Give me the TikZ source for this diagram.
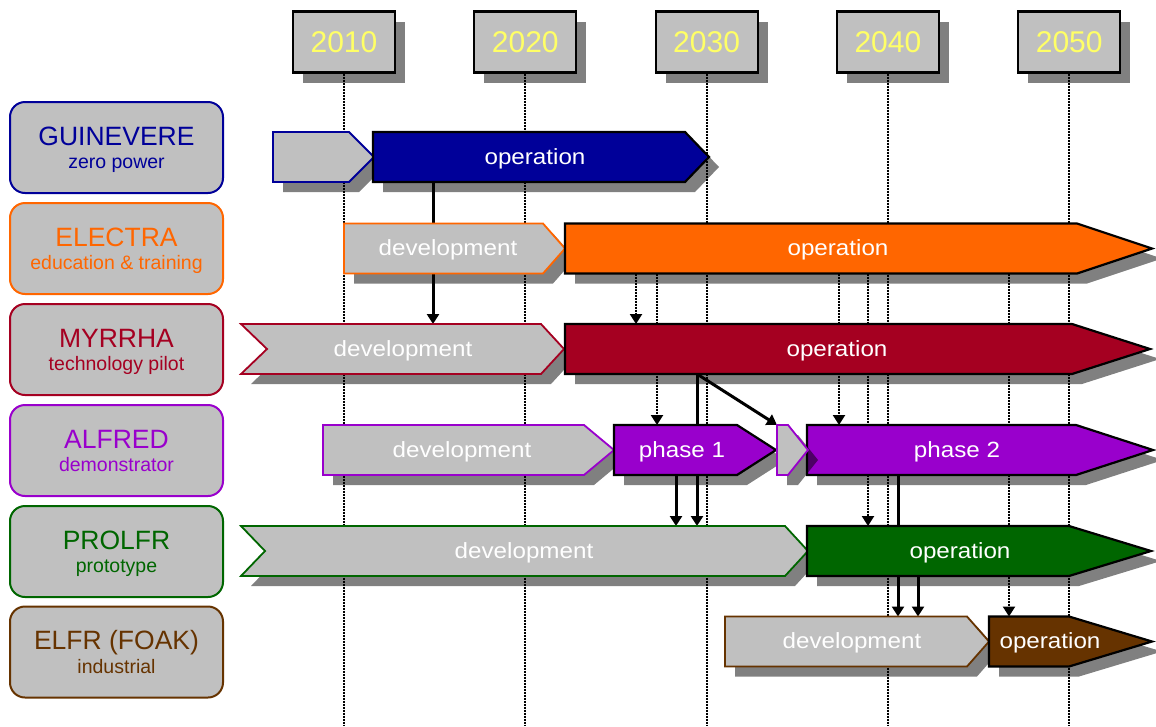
\documentclass[tikz,border=0pt]{standalone}
\usepackage{fontspec}
\setmainfont{Liberation Sans}
\newfontfamily\barfont[FakeStretch=1.1]{Liberation Sans}
\usetikzlibrary{arrows.meta,shadows,fit}

\definecolor{guincol}{RGB}{0,0,153}
\definecolor{eleccol}{RGB}{255,102,0}
\definecolor{myrcol}{RGB}{165,0,33}
\definecolor{alfcol}{RGB}{153,0,204}
\definecolor{procol}{RGB}{0,102,0}
\definecolor{elfcol}{RGB}{102,51,0}
\definecolor{panel}{RGB}{192,192,192}
\definecolor{shade}{RGB}{128,128,128}
\definecolor{yeartext}{RGB}{255,255,102}

\pgfdeclarelayer{shadows}
\pgfdeclarelayer{links}
\pgfsetlayers{shadows,links,main}

% left, body end, tip, centre, notch
\newcommand\chevron[5]{(#1,#4-25) -- (#2,#4-25) -- (#3,#4) -- (#2,#4+25) -- (#1,#4+25) -- (#1+#5,#4) -- cycle}
% name, style, then the chevron
\newcommand\phasebar[7]{%
  \begin{pgfonlayer}{shadows}
    \fill[barshadow, shift={(10,10)}] \chevron{#3}{#4}{#5}{#6}{#7};
  \end{pgfonlayer}
  \draw[#2] \chevron{#3}{#4}{#5}{#6}{#7};
  \node[slot, fit={(#3,#6-25) (#5,#6+25)}] (#1) {};}

\begin{document}
\begin{tikzpicture}[x=1pt, y=-1pt,
    yearbox/.style={draw, line width=2.2pt, fill=panel, minimum width=102pt, minimum height=61pt,
      font=\fontsize{30}{30}\selectfont, text=yeartext,
      drop shadow={shadow xshift=10pt, shadow yshift=-10pt, fill=shade, opacity=1}},
    rowlabel/.style={draw=#1, text=#1, line width=2pt, fill=panel, rounded corners=15pt,
      minimum width=213pt, minimum height=91pt, inner sep=0pt, align=center,
      text height=42.4pt, text depth=0pt, font=\fontsize{19.5}{23.4}\selectfont},
    slot/.style={inner sep=0pt, outer sep=0pt},
    devbar/.style={draw=#1, line width=1.8pt, fill=panel},
    opbar/.style={draw=black, line width=2.2pt, fill=#1},
    barshadow/.style={fill=shade},
    bartext/.style={text=white, font=\barfont\fontsize{22}{26}\selectfont, inner sep=0pt,
      text height=18pt, text depth=4pt},
    yearline/.style={line width=2pt, dash pattern=on 2pt off 1pt},
    link/.style={line width=3pt, -{Triangle[width=12pt,length=10pt]}},
    hint/.style={line width=2.2pt, dash pattern=on 2pt off 1pt, -{Triangle[width=12pt,length=10pt]}}]
  \useasboundingbox (0,0) rectangle (1156,726);
  \coordinate (bottom) at (0,726);

  % years along the top
  \begin{pgfonlayer}{shadows}
    \foreach \yr [count=\i from 0] in {2010,2020,2030,2040,2050}
      \node[yearbox] (y\yr) at (344+181.3*\i,42) {\yr};
  \end{pgfonlayer}
  \begin{pgfonlayer}{links}
    \foreach \yr in {2010,2020,2030,2040,2050}
      \draw[yearline] (y\yr.south) -- (y\yr.south |- bottom);
  \end{pgfonlayer}

  % facilities
  \node[rowlabel=guincol] (guinlab) at (116.5,147.5) {{\fontsize{26.5}{23.4}\selectfont GUINEVERE}\\zero power};
  \node[rowlabel=eleccol] (eleclab) at (116.5,248.5) {{\fontsize{26.5}{23.4}\selectfont ELECTRA}\\education \& training};
  \node[rowlabel=myrcol] (myrlab) at (116.5,349.5) {{\fontsize{26.5}{23.4}\selectfont MYRRHA}\\technology pilot};
  \node[rowlabel=alfcol] (alflab) at (116.5,450.5) {{\fontsize{26.5}{23.4}\selectfont ALFRED}\\demonstrator};
  \node[rowlabel=procol] (prolab) at (116.5,551.5) {{\fontsize{26.5}{23.4}\selectfont PROLFR}\\prototype};
  \node[rowlabel=elfcol] (elflab) at (116.5,652) {{\fontsize{26.5}{23.4}\selectfont ELFR (FOAK)}\\industrial};

  % time bars
  \phasebar{guindev}{devbar=guincol}{273}{349}{374}{157}{0}
  \phasebar{guinop}{opbar=guincol}{373}{685}{709}{157}{0}
  \phasebar{elecdev}{devbar=eleccol}{344}{543}{565}{248.5}{0}
  \phasebar{elecop}{opbar=eleccol}{565}{1077}{1152}{248.5}{0}
  \phasebar{myrdev}{devbar=myrcol}{241}{541}{564}{349}{26}
  \phasebar{myrop}{opbar=myrcol}{565}{1072}{1150}{349}{0}
  \phasebar{alfdev}{devbar=alfcol}{323}{584}{614}{450}{0}
  \phasebar{alfone}{opbar=alfcol}{614}{737}{776}{450}{0}
  \phasebar{alftwo}{opbar=alfcol}{807}{1076}{1153}{450}{0}
  % step between the phases, its shadow falls on phase 2
  \fill[black, opacity=0.5, shift={(10,10)}] \chevron{777}{788}{808}{450}{0};
  \draw[devbar=alfcol] \chevron{777}{788}{808}{450}{0};
  \node[slot, fit={(777,425) (808,475)}] (alfstep) {};
  \phasebar{prodev}{devbar=procol}{241}{785}{808}{551}{24}
  \phasebar{proop}{opbar=procol}{807}{1069}{1151}{551}{0}
  \phasebar{elfdev}{devbar=elfcol}{725}{967}{989}{641.5}{0}
  \phasebar{elfop}{opbar=elfcol}{989}{1069}{1152}{641.5}{0}

  \node[bartext] (guinoptxt) at (535,157) {operation};
  \node[bartext] (elecdevtxt) at (448,248.5) {development};
  \node[bartext] (elecoptxt) at (838,248.5) {operation};
  \node[bartext] (myrdevtxt) at (403,349) {development};
  \node[bartext] (myroptxt) at (837,349) {operation};
  \node[bartext] (alfdevtxt) at (462,450) {development};
  \node[bartext] (alfonetxt) at (682,450) {phase 1};
  \node[bartext] (alftwotxt) at (957,450) {phase 2};
  \node[bartext] (prodevtxt) at (524,551) {development};
  \node[bartext] (prooptxt) at (960,551) {operation};
  \node[bartext] (elfdevtxt) at (852,641.5) {development};
  \node[bartext] (elfoptxt) at (1050,641.5) {operation};

  % dependencies
  \begin{pgfonlayer}{links}
    \draw[link] ([xshift=60pt]guinop.south west) coordinate (g1) -- (g1 |- myrdev.north);
    \draw[hint] ([xshift=71pt]elecop.south west) coordinate (e1) -- (e1 |- myrop.north);
    \draw[hint] ([xshift=92pt]elecop.south west) coordinate (e2) -- (e2 |- alfone.north);
    \draw[hint] ([xshift=274pt]elecop.south west) coordinate (e3) -- (e3 |- alftwo.north);
    \draw[hint] ([xshift=303pt]elecop.south west) coordinate (e4) -- (e4 |- proop.north);
    \draw[hint] ([xshift=444pt]elecop.south west) coordinate (e5) -- (e5 |- elfop.north);
    \draw[link] ([xshift=132pt]myrop.south west) coordinate (m1) -- (m1 |- prodev.north);
    \draw[link] (m1) -- (alfstep.north west);
    \draw[link] ([xshift=62pt]alfone.south west) coordinate (a1) -- (a1 |- prodev.north);
    \draw[link] ([xshift=91pt]alftwo.south west) coordinate (a2) -- (a2 |- elfdev.north);
    \draw[link] ([xshift=111pt]proop.south west) coordinate (p1) -- (p1 |- elfdev.north);
  \end{pgfonlayer}
\end{tikzpicture}
\end{document}
